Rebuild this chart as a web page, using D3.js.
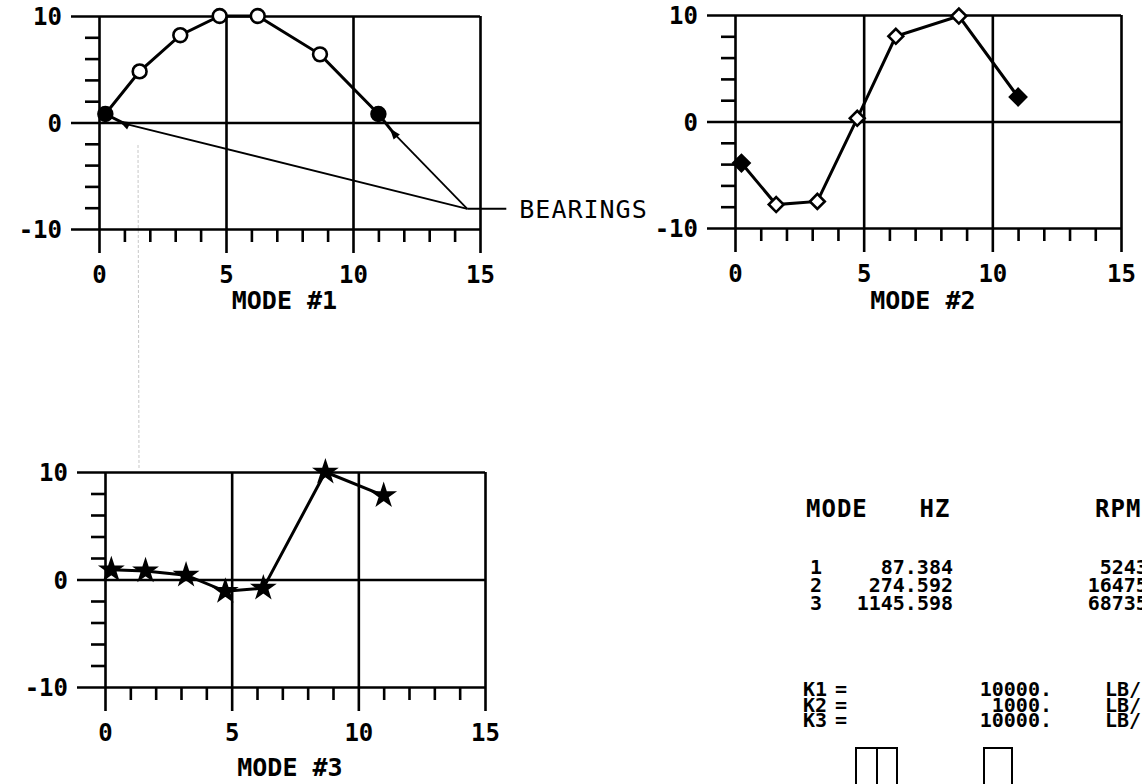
<!DOCTYPE html>
<html><head><meta charset="utf-8">
<script src="https://cdn.jsdelivr.net/npm/d3@7"></script>
<style>
html,body{margin:0;padding:0;background:#fff;overflow:hidden}
svg{display:block}
.lbl{font-family:"DejaVu Sans Mono",monospace;font-weight:bold;fill:#000}
</style></head><body>
<svg id="c" width="1142" height="784"></svg>
<script>
// ---- data ----
const stations = [0.25, 1.6, 3.2, 4.75, 6.25, 8.7, 11.0];
const mode1 = [0.8, 4.8, 8.2, 10, 10, 6.4, 0.8];
const mode2 = [-3.9, -7.8, -7.5, 0.3, 8.0, 9.9, 2.3];
const mode3 = [0.9, 0.8, 0.4, -1.1, -0.8, 10, 7.8];
const bearingIdx = [0, 6];
const xMajor = [0, 5, 10, 15];
const xMinor = [1, 2, 3, 4, 6, 7, 8, 9, 11, 12, 13, 14];
const yMajor = [10, 0, -10];
const yMinor = [8, 6, 4, 2, -2, -4, -6, -8];
const modeTitles = ["MODE #1", "MODE #2", "MODE #3"];
const tableHeaders = ["MODE", "HZ", "RPM"];
const modeNums = [1, 2, 3];
const hz = [87.384, 274.592, 1145.598];
const rpm = [5243.040, 16475.520, 68735.880];
const springNames = ["K1", "K2", "K3"];
const springVals = [10000, 1000, 10000];
const springUnit = "LB/IN";
const bearingLabel = "BEARINGS";
const bearingAnchor = [14.5, -8.1];
const bearingArrows = [[1.0, -0.1], [11.6, -1.0]];

// ---- layout ----
const svg = d3.select("#c");
const panels = [
  {x0: 99, x1: 480, yT: 16, yB: 229, data: mode1, sym: "circle", title: modeTitles[0], titleDy: 71},
  {x0: 735, x1: 1121, yT: 15, yB: 228, data: mode2, sym: "diamond", title: modeTitles[1], titleDy: 72},
  {x0: 105, x1: 485, yT: 472, yB: 687, data: mode3, sym: "star", title: modeTitles[2], titleDy: 80}
];
const FS = 24;
const LW = 2.6;

function styleAxis(g) {
  g.select(".domain").remove();
  g.selectAll("line").attr("stroke", "#000").attr("stroke-width", LW);
  g.selectAll("text").attr("class", "lbl").attr("font-size", FS).attr("fill", "#000");
}

// faint fold line of the scan
svg.append("line").attr("x1", 138).attr("x2", 139).attr("y1", 145).attr("y2", 468)
  .attr("stroke", "#c8c8c8").attr("stroke-width", 1).attr("stroke-dasharray", "3,2");

panels.forEach((p, pi) => {
  const x = d3.scaleLinear().domain([0, 15]).range([p.x0, p.x1]);
  const y = d3.scaleLinear().domain([-10, 10]).range([p.yB, p.yT]);
  const W = p.x1 - p.x0, H = p.yB - p.yT;
  const g = svg.append("g");

  // major horizontal lines with labels
  g.append("g").attr("transform", `translate(${p.x1},0)`)
    .call(d3.axisLeft(y).tickValues(yMajor).tickSize(W + 28).tickPadding(9).tickFormat(d => String(d)))
    .call(styleAxis)
    .call(a => a.selectAll("text").attr("dy", "0.36em"));
  // major vertical lines with labels
  g.append("g").attr("transform", `translate(0,${p.yT})`)
    .call(d3.axisBottom(x).tickValues(xMajor).tickSize(H + 24).tickPadding(13).tickFormat(d => String(d)))
    .call(styleAxis);
  // minor ticks
  g.append("g").attr("transform", `translate(${p.x0},0)`)
    .call(d3.axisLeft(y).tickValues(yMinor).tickSize(14).tickFormat(""))
    .call(styleAxis);
  g.append("g").attr("transform", `translate(0,${p.yB})`)
    .call(d3.axisBottom(x).tickValues(xMinor).tickSize(13).tickFormat(""))
    .call(styleAxis);

  const pts = stations.map((s, i) => [s, p.data[i]]);
  // bearing annotation (mode 1)
  if (pi === 0) {
    bearingArrows.forEach((a, k) => {
      const n = pts[bearingIdx[k]];
      g.append("path")
        .attr("d", d3.line().x(d => x(d[0])).y(d => y(d[1]))([n, a]))
        .attr("fill", "none").attr("stroke", "#000").attr("stroke-width", 3);
      g.append("path")
        .attr("d", d3.line().x(d => x(d[0])).y(d => y(d[1]))([a, bearingAnchor]))
        .attr("fill", "none").attr("stroke", "#000").attr("stroke-width", 1.8);
      const ang = Math.atan2(y(n[1]) - y(a[1]), x(n[0]) - x(a[0])) * 180 / Math.PI;
      g.append("path").attr("d", "M6,0 L-5,-4 L-5,4 Z")
        .attr("transform", `translate(${x(a[0])},${y(a[1])}) rotate(${ang})`)
        .attr("fill", "#000");
    });
    const ax = x(bearingAnchor[0]), ay = y(bearingAnchor[1]);
    g.append("line").attr("x1", ax).attr("x2", ax + 39).attr("y1", ay).attr("y2", ay)
      .attr("stroke", "#000").attr("stroke-width", 2);
    g.append("text").attr("x", ax + 52).attr("y", ay).attr("dy", "0.36em")
      .attr("font-family", "DejaVu Sans Mono").attr("font-size", 25).attr("letter-spacing", 1)
      .attr("fill", "#000").text(bearingLabel);
  }

  // data line
  g.append("path")
    .attr("d", d3.line().x(d => x(d[0])).y(d => y(d[1]))(pts))
    .attr("fill", "none").attr("stroke", "#000").attr("stroke-width", 3);

  // markers
  pts.forEach((d, i) => {
    const isB = bearingIdx.includes(i);
    let path, rot = 0;
    if (p.sym === "circle") path = d3.symbol(d3.symbolCircle, 150)();
    else if (p.sym === "diamond") { path = d3.symbol(d3.symbolSquare, isB ? 130 : 110)(); rot = 45; }
    else path = d3.symbol(d3.symbolStar, 110)();
    const filled = p.sym === "star" || isB;
    g.append("path").attr("d", path)
      .attr("transform", `translate(${x(d[0])},${y(d[1])}) rotate(${rot})`)
      .attr("fill", filled ? "#000" : "#fff").attr("stroke", "#000").attr("stroke-width", 2.6);
  });

  // title
  g.append("text").attr("class", "lbl").attr("font-size", 25)
    .attr("x", x(7.3)).attr("y", p.yB + p.titleDy).attr("dy", "0.36em")
    .attr("text-anchor", "middle").text(p.title);
});

// ---- table ----
const colX = [806, 935, 1095];
const headY = 508;
const th = svg.append("g").attr("class", "lbl").attr("font-size", 24).attr("letter-spacing", 1);
th.append("text").attr("x", colX[0]).attr("y", headY).attr("dy", "0.36em").text(tableHeaders[0]);
th.append("text").attr("x", colX[1]).attr("y", headY).attr("dy", "0.36em").attr("text-anchor", "middle").text(tableHeaders[1]);
th.append("text").attr("x", colX[2]).attr("y", headY).attr("dy", "0.36em").text(tableHeaders[2]);

const t = svg.append("g").attr("class", "lbl").attr("font-size", 20);
const rowY = d3.scaleLinear().domain([0, 1]).range([567, 585]);
modeNums.forEach((m, i) => {
  const yy = rowY(i);
  t.append("text").attr("x", 816).attr("y", yy).attr("dy", "0.36em").attr("text-anchor", "middle").text(m);
  t.append("text").attr("x", 953).attr("y", yy).attr("dy", "0.36em").attr("text-anchor", "end").text(hz[i].toFixed(3));
  t.append("text").attr("x", 1196).attr("y", yy).attr("dy", "0.36em").attr("text-anchor", "end").text(rpm[i].toFixed(3));
});
const kY = d3.scaleLinear().domain([0, 1]).range([689, 704.5]);
springNames.forEach((k, i) => {
  const yy = kY(i);
  t.append("text").attr("x", 803).attr("y", yy).attr("dy", "0.36em").text(k);
  t.append("text").attr("x", 841).attr("y", yy).attr("dy", "0.36em").attr("text-anchor", "middle").text("=");
  t.append("text").attr("x", 1052).attr("y", yy).attr("dy", "0.36em").attr("text-anchor", "end").text(springVals[i] + ".");
  t.append("text").attr("x", 1105).attr("y", yy).attr("dy", "0.36em").text(springUnit);
});
// small boxes at the bottom edge
[[856, 877], [877, 897], [984, 1012]].forEach(b => {
  svg.append("path").attr("d", `M${b[0]},790 V748 H${b[1]} V790`)
    .attr("fill", "none").attr("stroke", "#000").attr("stroke-width", 2);
});
</script>
</body></html>
